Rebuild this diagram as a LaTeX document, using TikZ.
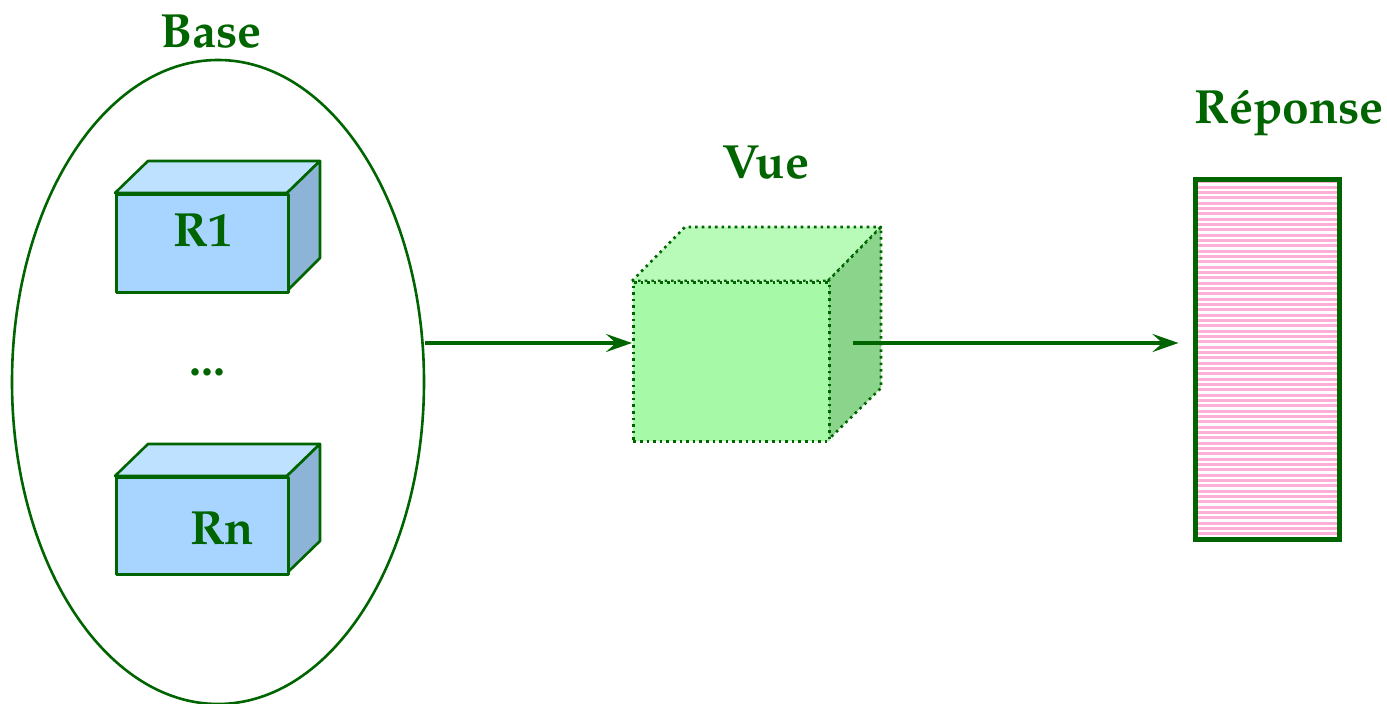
\documentclass[tikz,border=0pt]{standalone}
\usepackage[T1]{fontenc}
\usepackage{mathpazo}
\usetikzlibrary{arrows.meta,shapes.geometric}

\definecolor{dkgreen}{RGB}{0,100,0}
\definecolor{relfront}{RGB}{168,213,255}
\definecolor{reltop}{RGB}{189,225,255}
\definecolor{relside}{RGB}{141,180,214}
\definecolor{vuefront}{RGB}{166,249,166}
\definecolor{vuetop}{RGB}{184,250,184}
\definecolor{vueside}{RGB}{139,212,139}
\definecolor{stripe}{RGB}{255,176,216}

\tikzset{
  lbl/.style={text=dkgreen, font=\fontsize{24}{28}\selectfont\bfseries, inner sep=0pt},
  relface/.style={draw=dkgreen, line width=1.3pt, line join=round},
  vueface/.style={draw=dkgreen, line width=1.3pt, dotted, line join=round},
  flow/.style={draw=dkgreen, line width=2pt, -{Stealth[length=13pt,width=9pt,inset=5pt]}},
}

\begin{document}
\begin{tikzpicture}[x=0.5pt, y=-0.5pt]
\useasboundingbox (0,0) rectangle (1387,704);

% database ellipse
\node[draw=dkgreen, line width=1.3pt, ellipse, minimum width=206pt, minimum height=322pt, inner sep=0pt] (base) at (218,382) {};
\node[lbl] (basetxt) at (211,32) {Base};

% relation box R1
\fill[reltop, relface] (115,193) -- (148,161) -- (320,161) -- (287,193) -- cycle;
\fill[relside, relface] (287,193) -- (320,161) -- (320,258) -- (287,291) -- cycle;
\node[relface, fill=relfront, minimum width=86pt, minimum height=49pt, inner sep=0pt, anchor=north west] (r1) at (115,193) {};
\node[lbl] (r1txt) at (203,231) {R1};

\node[lbl] (dots) at (207,372) {...};

% relation box Rn
\fill[reltop, relface] (115,476) -- (148,444) -- (320,444) -- (287,476) -- cycle;
\fill[relside, relface] (287,476) -- (320,444) -- (320,541) -- (287,573) -- cycle;
\node[relface, fill=relfront, minimum width=86pt, minimum height=48.5pt, inner sep=0pt, anchor=north west] (rn) at (115,476) {};
\node[lbl] (rntxt) at (222,529) {Rn};

% view cube
\fill[vuetop, vueface] (632,281) -- (685,227) -- (881,227) -- (828,281) -- cycle;
\fill[vueside, vueface] (828,281) -- (881,227) -- (881,388) -- (828,440) -- cycle;
\node[vueface, fill=vuefront, minimum width=98pt, minimum height=79.5pt, inner sep=0pt, anchor=north west] (vue) at (632,281) {};
\node[lbl] (vuetxt) at (766,163) {Vue};

% answer table
\node[inner sep=0pt, minimum width=71.5pt, minimum height=179.5pt, anchor=north west] (rep) at (1195.5,179.5) {};
\begin{scope}
  \clip (rep.north west) rectangle (rep.south east);
  \foreach \k in {0,...,68} {
    \draw[stripe, line width=1.5pt] (1190,182+\k*5.33) -- (1345,182+\k*5.33);
  }
\end{scope}
\draw[dkgreen, line width=2.6pt] (rep.north west) rectangle (rep.south east);
\node[lbl] (reptxt) at (1289,113) {R\'eponse};

% data flow
\coordinate (a1) at (425,343);
\coordinate (a2) at (853,343);
\draw[flow] (a1) -- (vue.west |- a1);
\draw[flow, shorten >=8.5pt] (a2) -- (rep.west |- a2);
\end{tikzpicture}
\end{document}
